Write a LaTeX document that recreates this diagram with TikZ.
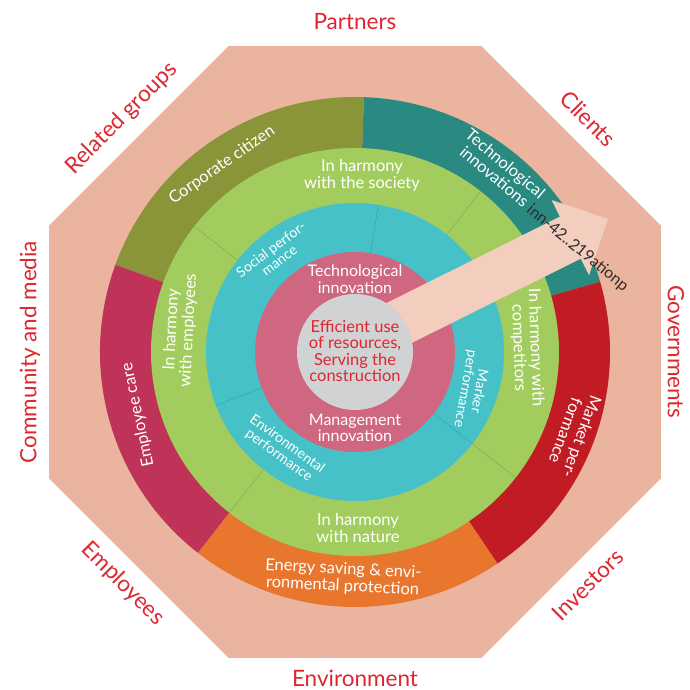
\documentclass[tikz,border=0pt]{standalone}
\usepackage{fontspec}
\setmainfont{Lato}
\definecolor{octa}{RGB}{235,180,158}
\definecolor{ringteal}{RGB}{42,138,130}
\definecolor{ringolive}{RGB}{138,148,57}
\definecolor{ringcrim}{RGB}{190,51,87}
\definecolor{ringorange}{RGB}{232,118,45}
\definecolor{ringred}{RGB}{193,27,36}
\definecolor{harmony}{RGB}{162,205,94}
\definecolor{perf}{RGB}{71,193,200}
\definecolor{innov}{RGB}{207,103,129}
\definecolor{core}{RGB}{209,210,212}
\definecolor{arrowfill}{RGB}{243,205,189}
\definecolor{labred}{RGB}{222,38,47}
\definecolor{stray}{RGB}{45,45,45}

\begin{document}
\begin{tikzpicture}[x=1pt, y=1pt,
    stake/.style={text=labred, font=\fontsize{22.5}{26}\selectfont},
    band/.style={text=white, align=center, font=\fontsize{16.5}{17}\selectfont},
    small/.style={text=white, align=center, font=\fontsize{14}{14}\selectfont},
    split/.style={draw=#1, line width=0.4pt}]

    \useasboundingbox (-355,-338) rectangle (334,352);

    % stakeholders
    \fill[octa] (22.5:331) \foreach \a in {67.5,112.5,...,337.5} { -- (\a:331) } -- cycle;
    \foreach \a/\d/\r/\t in {90/330/0/Partners, 45/330/-45/Clients, 0/321/-90/Governments, -45/329/45/Investors,
                          -90/326/0/Environment, -135/328/-45/Employees, 180/325/90/Community and media, 135/330/45/Related groups}
        \node[stake, rotate=\r] (st\a) at (\a:\d) {\t};

    % outer ring
    \foreach \a/\b/\c in {16/88/ringteal, 88/160/ringolive, 160/232/ringcrim, 232/304/ringorange, 304/376/ringred}
        \fill[\c] (0,0) -- (\a:255) arc[start angle=\a, end angle=\b, radius=255] -- cycle;

    \fill[harmony] (0,0) circle (204);
    \foreach \a in {52,142,232,322}
        \draw[split=harmony!80!black] (\a:149) -- (\a:204);

    \fill[perf] (0,0) circle (149);
    \foreach \a in {81,201,322}
        \draw[split=perf!80!black] (\a:100) -- (\a:149);

    \fill[innov] (0,0) circle (100);

    % big arrow
    \begin{scope}[shift={(0,7)}, rotate=26.5]
        \fill[arrowfill] (0,-23.5) -- (240.6,-23.5) -- (240.6,-42) -- (282.6,0)
            -- (240.6,42) -- (240.6,23.5) -- (0,23.5) -- cycle;
    \end{scope}

    \fill[core] (0,0) circle (58);

    % outer ring texts
    \node[band, rotate=35] (corp) at (-133,187) {Corporate citizen};
    \node[band, rotate=-40] (tech) at (145,182) {Technological\\innovations};
    \node[band, rotate=-110] (mark) at (219,-82) {Market per-\\formance};
    \node[band, rotate=102] (care) at (-217,-63) {Employee care};
    \node[band, rotate=-3] (energy) at (-12,-226) {Energy saving \& envi-\\ronmental protection};

    % harmony ring
    \node[band] (soc) at (7,177) {In harmony\\with the society};
    \node[band, rotate=87] (emp) at (-175,22) {In harmony\\with employees};
    \node[band, rotate=-88] (comp) at (172,4) {In harmony with\\competitors};
    \node[band] (nat) at (3,-176) {In harmony\\with nature};

    % performance ring
    \node[small, rotate=37] (socp) at (-80,97) {Social perfor-\\mance};
    \node[small, rotate=-36] (envp) at (-72,-98) {Environmental\\performance};
    \node[small, rotate=-100] (markp) at (117,-38) {Marker\\performance};

    % innovation ring and core
    \node[band, font=\fontsize{16}{16.5}\selectfont] (tin) at (0,73) {Technological\\innovation};
    \node[band, font=\fontsize{16}{16.5}\selectfont] (min) at (0,-76) {Management\\innovation};
    \node[align=center, text=labred, font=\fontsize{16.5}{16.5}\selectfont] (eff) at (0,1)
        {Efficient use\\of resources,\\Serving the\\construction};

    \node[text=stray, rotate=-39.5, font=\fontsize{16}{17}\selectfont] (odd) at (222.5,103.5) {inn-42..219ationp};

\end{tikzpicture}
\end{document}
